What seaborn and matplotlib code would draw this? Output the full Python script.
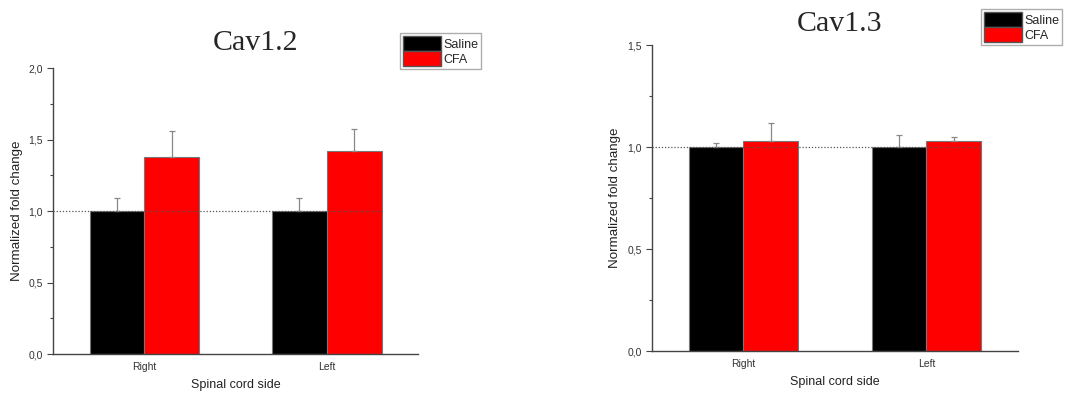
import pandas as pd
import numpy as np
import matplotlib.pyplot as plt
import seaborn as sns
from matplotlib.patches import Patch

# values
sides = ['Right', 'Left']
groups = ['Saline', 'CFA']

cav12_saline = [1.00, 1.00]
cav12_cfa = [1.38, 1.42]
cav12_saline_err = [0.09, 0.09]
cav12_cfa_err = [0.18, 0.15]

cav13_saline = [1.00, 1.00]
cav13_cfa = [1.03, 1.03]
cav13_saline_err = [0.02, 0.06]
cav13_cfa_err = [0.09, 0.02]

cav12_ticks = [0.0, 0.5, 1.0, 1.5, 2.0]
cav12_ticklabels = ['0,0', '0,5', '1,0', '1,5', '2,0']
cav13_ticks = [0.0, 0.5, 1.0, 1.5]
cav13_ticklabels = ['0,0', '0,5', '1,0', '1,5']

colors = {'Saline': '#000000', 'CFA': '#ff0000'}

sns.set_style('white')
plt.rcParams['font.family'] = ['Liberation Sans', 'DejaVu Sans']


def make_df(saline, cfa):
    return pd.DataFrame({
        'side': sides * 2,
        'group': ['Saline'] * 2 + ['CFA'] * 2,
        'value': saline + cfa,
    })


def draw_panel(ax, df, errs, ticks, ticklabels, ymax):
    sns.barplot(data=df, x='side', y='value', hue='group', hue_order=groups,
                order=sides, palette=colors, saturation=1, width=0.6,
                errorbar=None, edgecolor='#777777', linewidth=0.8,
                legend=False, ax=ax)
    # upward-only error bars at the bar tops
    for patch, err in zip(ax.patches, errs):
        xc = patch.get_x() + patch.get_width() / 2
        ax.errorbar(xc, patch.get_height(), yerr=[[0], [err]], fmt='none',
                    ecolor='#888888', elinewidth=0.9, capsize=2, capthick=0.9,
                    zorder=1)
    ax.hlines(1.0, -0.5, 1.3, colors='#555555', linestyles=(0, (1, 1.5)),
              linewidth=0.9, zorder=5)
    ax.set_xlim(-0.5, 1.5)
    ax.set_ylim(0, ymax)
    ax.set_yticks(np.array(ticks[:-1]) + 0.25, minor=True)
    ax.set_yticks(ticks, labels=ticklabels)
    ax.tick_params(axis='y', which='major', direction='out', length=4,
                   width=0.8, color='#444444', labelsize=7.5,
                   labelcolor='#333333', left=True)
    ax.tick_params(axis='y', which='minor', direction='out', length=2.5,
                   width=0.8, color='#444444', left=True)
    ax.tick_params(axis='x', length=0, labelsize=7.5, labelcolor='#333333', pad=6)
    for s in ['top', 'right']:
        ax.spines[s].set_visible(False)
    for s in ['left', 'bottom']:
        ax.spines[s].set_color('#444444')
        ax.spines[s].set_linewidth(1.0)
    ax.set_xlabel('Spinal cord side', fontsize=9, color='#222222', labelpad=5)
    ax.set_ylabel('Normalized fold change', fontsize=9.6, color='#222222', labelpad=4)


fig = plt.figure(figsize=(10.73, 3.94), dpi=100)
ax1 = fig.add_axes([0.0494, 0.1015, 0.3402, 0.7259])
ax2 = fig.add_axes([0.6076, 0.1091, 0.3411, 0.7766])

draw_panel(ax1, make_df(cav12_saline, cav12_cfa),
           cav12_saline_err + cav12_cfa_err, cav12_ticks, cav12_ticklabels, 2.0)
draw_panel(ax2, make_df(cav13_saline, cav13_cfa),
           cav13_saline_err + cav13_cfa_err, cav13_ticks, cav13_ticklabels, 1.5)

fig.text(255 / 1073, 1 - 43 / 394, 'Cav1.2', family='Liberation Serif',
         fontsize=21.5, ha='center', va='center')
fig.text(840 / 1073, 1 - 24 / 394, 'Cav1.3', family='Liberation Serif',
         fontsize=21.5, ha='center', va='center')

handles = [Patch(facecolor=colors[g], edgecolor='#555555', label=g) for g in groups]
for loc in [(400 / 1073, 1 - 33 / 394), (981 / 1073, 1 - 9 / 394)]:
    fig.legend(handles=handles, loc='upper left', bbox_to_anchor=loc,
               fontsize=9, frameon=True, fancybox=False, edgecolor='#999999',
               handlelength=3.0, handleheight=1.45, handletextpad=0.2,
               borderpad=0.25, labelspacing=0.0, borderaxespad=0)

fig.savefig('out.png', dpi=100, facecolor='white')
